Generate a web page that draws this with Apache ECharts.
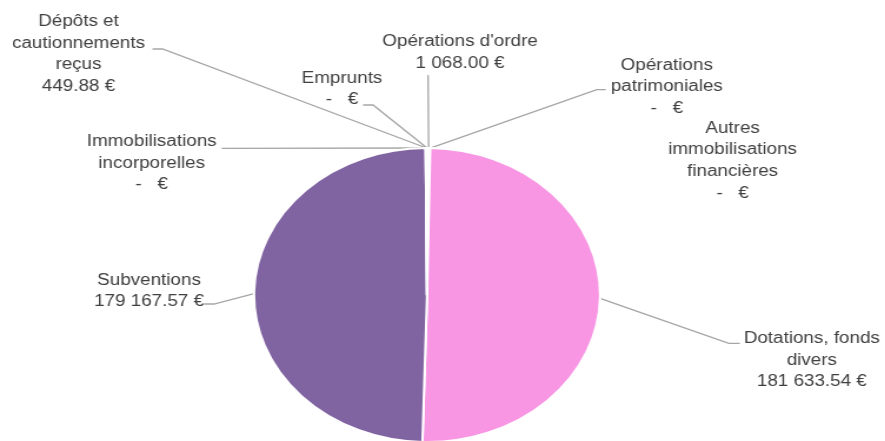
<!DOCTYPE html>
<html>
<head>
<meta charset="utf-8">
<script src="https://cdn.jsdelivr.net/npm/echarts@6/dist/echarts.min.js"></script>
<style>
  html, body { margin: 0; padding: 0; background: #fff; overflow: hidden; }
  /* the original picture is stretched horizontally, so the chart is drawn narrow and scaled */
  #main { width: 752px; height: 441px; transform: scaleX(1.177); transform-origin: 0 0; }
</style>
</head>
<body>
<div id="main"></div>
<script>
// horizontal stretch of the reference
var K = 885 / 752;

// slices, clockwise from 12 o'clock
var categories = [
  "Opérations d'ordre",
  'Opérations patrimoniales',
  'Autres immobilisations financières',
  'Dotations, fonds divers',
  'Subventions',
  'Immobilisations incorporelles',
  'Dépôts et cautionnements reçus',
  'Emprunts'
];
var values = [1068.00, 0, 0, 181633.54, 179167.57, 0, 449.88, 0];

// label text as broken in the picture
var labelNames = [
  "Opérations d'ordre",
  'Opérations\npatrimoniales',
  'Autres\nimmobilisations\nfinancières',
  'Dotations, fonds\ndivers',
  'Subventions',
  'Immobilisations\nincorporelles',
  'Dépôts et\ncautionnements\nreçus',
  'Emprunts'
];

var colors = ['#F4F4F4', '#4BACC6', '#9BBB59', '#F896E4', '#8064A2', '#4F81BD', '#D9534F', '#F79646'];

// label centres (reference pixels) and leader-line ends relative to them [dx, dy, elbow]
var labelPos = [
  [460, 52.5], [666.7, 86.7], [732.5, 160.8], [811.7, 360.3],
  [149, 291], [151.7, 163.3], [78.5, 54], [342, 89]
];
var lineEnds = [
  [-32, 22.5, 0], [-61, 3, -9], null, [-72, -17, -11],
  [55, 13, 10], [70, -15, 0], [74, -5, 10], [21, 16, 10]
];

function fmtEuro(v) {
  if (!v) return '-   €';
  var parts = v.toFixed(2).split('.');
  var ip = parts[0].replace(/\B(?=(\d{3})+(?!\d))/g, ' ');
  return ip + '.' + parts[1] + ' €';
}

var data = categories.map(function (name, i) {
  var d = { name: name, value: values[i], itemStyle: { color: colors[i] } };
  if (!lineEnds[i]) d.labelLine = { show: false };
  return d;
});

var chart = echarts.init(document.getElementById('main'));
chart.setOption({
  animation: false,
  backgroundColor: '#fff',
  series: [
    {
      type: 'pie',
      center: [427 / K, 295],
      radius: 147,
      startAngle: 90,
      clockwise: true,
      avoidLabelOverlap: false,
      itemStyle: { borderColor: '#fff', borderWidth: 2 },
      label: {
        show: true,
        position: 'outside',
        fontFamily: 'Liberation Sans',
        fontSize: 16,
        lineHeight: 21.6,
        color: '#404040',
        align: 'center',
        formatter: function (p) {
          return labelNames[p.dataIndex] + '\n' + fmtEuro(p.value);
        }
      },
      labelLine: {
        show: true,
        length: 10,
        length2: 10,
        lineStyle: { color: '#A6A6A6', width: 1.3 }
      },
      labelLayout: function (params) {
        var i = params.dataIndex;
        var x = labelPos[i][0] / K;
        var y = labelPos[i][1];
        var out = { x: x, y: y, align: 'center', verticalAlign: 'middle' };
        var e = lineEnds[i];
        if (e && params.labelLinePoints) {
          var s = params.labelLinePoints[0];
          var ex = x + e[0] / K, ey = y + e[1];
          out.labelLinePoints = [[s[0], s[1]], [ex + e[2] / K, ey], [ex, ey]];
        }
        return out;
      },
      data: data
    }
  ]
});
</script>
</body>
</html>
